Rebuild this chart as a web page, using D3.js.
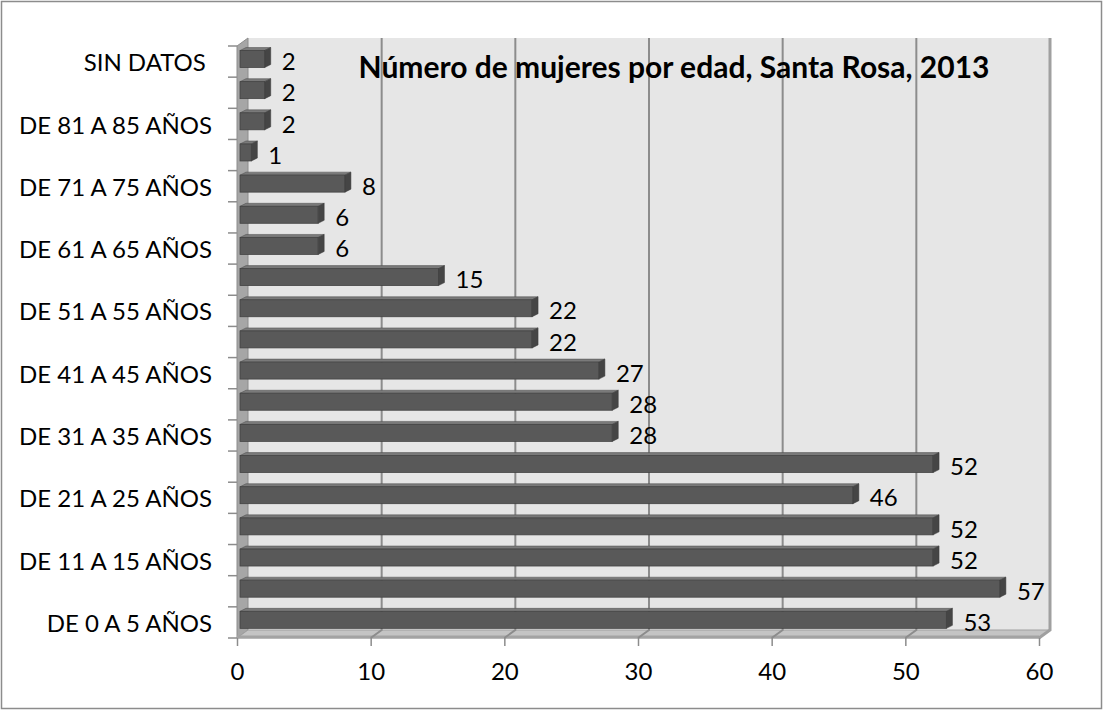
<!DOCTYPE html>
<html>
<head>
<meta charset="utf-8">
<script src="https://cdn.jsdelivr.net/npm/d3@7"></script>
<style>
    body { margin: 0; background: #fff; }
    text { font-family: Lato, "Open Sans", sans-serif; fill: #000; }
</style>
</head>
<body>
<div id="chart"></div>
<script>
// categories from bottom to top
const categories = [
    'DE 0 A 5 AÑOS', 'DE 6 A 10 AÑOS', 'DE 11 A 15 AÑOS', 'DE 16 A 20 AÑOS',
    'DE 21 A 25 AÑOS', 'DE 26 A 30 AÑOS', 'DE 31 A 35 AÑOS', 'DE 36 A 40 AÑOS',
    'DE 41 A 45 AÑOS', 'DE 46 A 50 AÑOS', 'DE 51 A 55 AÑOS', 'DE 56 A 60 AÑOS',
    'DE 61 A 65 AÑOS', 'DE 66 A 70 AÑOS', 'DE 71 A 75 AÑOS', 'DE 76 A 80 AÑOS',
    'DE 81 A 85 AÑOS', 'DE 86 A 90 AÑOS', 'SIN DATOS '
];
const values = [53, 57, 52, 52, 46, 52, 28, 28, 27, 22, 22, 15, 6, 6, 8, 1, 2, 2, 2];
const xTicks = [0, 10, 20, 30, 40, 50, 60];
const title = 'Número de mujeres por edad, Santa Rosa, 2013';

const width = 1104, height = 711;
const depth = { x: 11, y: -8 };   // offset from front plane to back wall
const barDepth = { x: 6, y: -3 };

const svg = d3.select('#chart').append('svg')
    .attr('width', width)
    .attr('height', height);

svg.append('rect')
    .attr('x', 1.5).attr('y', 1.5)
    .attr('width', width - 4).attr('height', height - 4)
    .attr('fill', '#fff')
    .attr('stroke', '#8c8c8c')
    .attr('stroke-width', 1.5);

const xScale = d3.scaleLinear()
    .domain([0, 60])
    .range([237, 1039]);

const yScale = d3.scaleBand()
    .domain(categories.slice().reverse())
    .range([46, 638]);

const x0 = xScale(0), x1 = xScale(60);
const yTop = yScale.range()[0], yBot = yScale.range()[1];

const poly = pts => 'M' + pts.map(p => p.join(',')).join('L') + 'Z';

// back wall
svg.append('path')
    .attr('d', poly([[x0 + depth.x, yTop + depth.y], [x1 + depth.x, yTop + depth.y],
        [x1 + depth.x, yBot + depth.y], [x0 + depth.x, yBot + depth.y]]))
    .attr('fill', '#e6e6e6');

// left wall
svg.append('path')
    .attr('d', poly([[x0, yTop], [x0 + depth.x, yTop + depth.y],
        [x0 + depth.x, yBot + depth.y], [x0, yBot]]))
    .attr('fill', '#a6a6a6')
    .attr('stroke', '#8c8c8c')
    .attr('stroke-width', 1);

// floor
svg.append('path')
    .attr('d', poly([[x0, yBot], [x1, yBot],
        [x1 + depth.x, yBot + depth.y], [x0 + depth.x, yBot + depth.y]]))
    .attr('fill', '#c4c4c4')
    .attr('stroke', '#a0a0a0')
    .attr('stroke-width', 1);

svg.append('line')
    .attr('x1', x0).attr('x2', x1)
    .attr('y1', yBot - 1).attr('y2', yBot - 1)
    .attr('stroke', '#a3a3a3')
    .attr('stroke-width', 3);

// gridlines on back wall + floor
svg.append('g')
    .selectAll('path')
    .data(xTicks.slice(1))
    .enter()
    .append('path')
    .attr('d', d => 'M' + (xScale(d) + depth.x) + ',' + (yTop + depth.y) +
        'L' + (xScale(d) + depth.x) + ',' + (yBot + depth.y) +
        'L' + xScale(d) + ',' + yBot)
    .attr('fill', 'none')
    .attr('stroke', d => d === 60 ? '#a0a0a0' : '#8c8c8c')
    .attr('stroke-width', d => d === 60 ? 3 : 2);

// x axis
const xAxis = d3.axisBottom(xScale)
    .tickValues(xTicks)
    .tickSize(8)
    .tickPadding(17)
    .tickSizeOuter(0);

const gXAxis = svg.append('g')
    .attr('transform', 'translate(0,' + yBot + ')')
    .call(xAxis);
gXAxis.select('.domain').remove();
gXAxis.selectAll('line').attr('stroke', '#8c8c8c').attr('stroke-width', 1.5);
gXAxis.selectAll('text')
    .style('font-family', 'Lato, sans-serif')
    .style('font-size', '24px');

// y axis: labels only every other category, ticks between bands
const yAxis = d3.axisLeft(yScale)
    .tickSize(0)
    .tickPadding(25)
    .tickFormat(d => categories.indexOf(d) % 2 === 0 ? d : '');

const gYAxis = svg.append('g')
    .attr('transform', 'translate(' + x0 + ',0)')
    .call(yAxis);
gYAxis.select('.domain').remove();
gYAxis.selectAll('text')
    .style('font-family', 'Lato, sans-serif')
    .style('font-size', '24px')
    .style('white-space', 'pre')
    .attr('dy', '0.4em');

svg.append('g')
    .selectAll('line')
    .data(d3.range(categories.length + 1))
    .enter()
    .append('line')
    .attr('x1', x0 - 9).attr('x2', x0)
    .attr('y1', i => yTop + i * yScale.bandwidth())
    .attr('y2', i => yTop + i * yScale.bandwidth())
    .attr('stroke', '#8c8c8c')
    .attr('stroke-width', 1.5);

// bars
const bars = svg.append('g')
    .selectAll('g')
    .data(categories.map((c, i) => ({ key: c, value: values[i] })))
    .enter()
    .append('g');

const bx0 = () => x0 + 3;
const bx1 = d => xScale(d.value) + 1;
const by0 = d => yScale(d.key) + 4.5;
const by1 = d => yScale(d.key) + 21.5;

bars.append('path')
    .attr('d', d => poly([[bx0(d), by0(d)], [bx1(d), by0(d)],
        [bx1(d) + barDepth.x, by0(d) + barDepth.y], [bx0(d) + barDepth.x, by0(d) + barDepth.y]]))
    .attr('fill', '#7a7a7a')
    .attr('stroke', '#4a4a4a')
    .attr('stroke-width', 0.5);

bars.append('rect')
    .attr('x', d => bx0(d))
    .attr('y', d => by0(d))
    .attr('width', d => bx1(d) - bx0(d))
    .attr('height', d => by1(d) - by0(d))
    .attr('fill', '#595959')
    .attr('stroke', '#404040')
    .attr('stroke-width', 0.75);

bars.append('path')
    .attr('d', d => poly([[bx1(d), by0(d)], [bx1(d) + barDepth.x, by0(d) + barDepth.y],
        [bx1(d) + barDepth.x, by1(d) + barDepth.y], [bx1(d), by1(d)]]))
    .attr('fill', '#454545')
    .attr('stroke', '#3a3a3a')
    .attr('stroke-width', 0.5);

bars.append('text')
    .attr('x', d => bx1(d) + barDepth.x + 11)
    .attr('y', d => yScale(d.key) + yScale.bandwidth() / 2)
    .attr('dy', '0.36em')
    .style('font-size', '24px')
    .text(d => d.value);

svg.append('text')
    .attr('x', 674)
    .attr('y', 78)
    .attr('text-anchor', 'middle')
    .style('font-size', '30px')
    .style('font-weight', 'bold')
    .text(title);
</script>
</body>
</html>
